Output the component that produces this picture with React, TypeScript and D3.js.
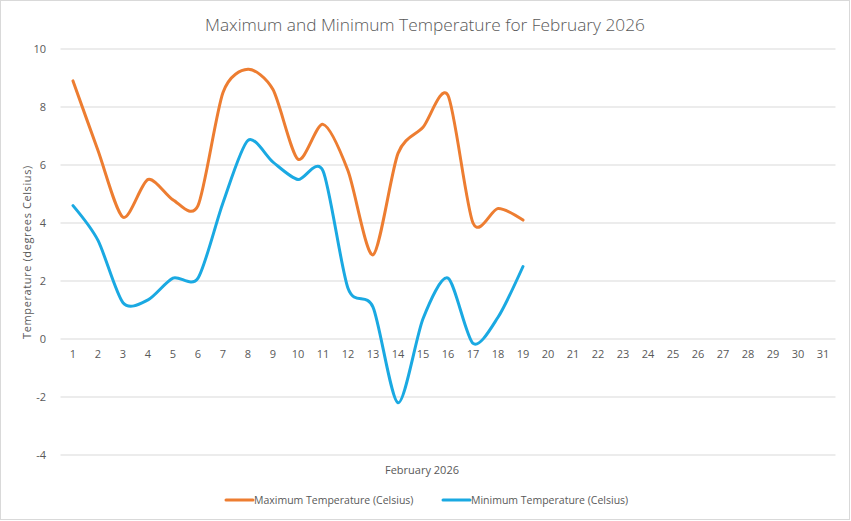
import * as d3 from "d3"

// daily readings for February 2026 (days 20-31 not recorded yet)
const days = d3.range(1, 32).map(String)
const maxTemps = [8.9, 6.5, 4.2, 5.5, 4.8, 4.6, 8.5, 9.3, 8.6, 6.2, 7.4, 5.8, 2.9, 6.4, 7.3, 8.4, 4.0, 4.5, 4.1]
const minTemps = [4.6, 3.4, 1.25, 1.35, 2.1, 2.1, 4.7, 6.85, 6.1, 5.5, 5.8, 1.75, 1.1, -2.2, 0.7, 2.1, -0.15, 0.75, 2.5]
const yTicks = [-4, -2, 0, 2, 4, 6, 8, 10]

const seriesList = [
  { name: "Maximum Temperature (Celsius)", values: maxTemps, color: "#ED7D31" },
  { name: "Minimum Temperature (Celsius)", values: minTemps, color: "#1AA9E2" }
]

const W = 851
const H = 521
const FONT = "'Open Sans', 'Noto Sans', sans-serif"
const TEXT = "#595959"

export default function App() {

  const x = d3.scaleBand()
    .domain(days)
    .range([60.5, 835.5])

  const y = d3.scaleLinear()
    .domain([-4, 10])
    .range([455, 49])

  const line = d3.line<number>()
    .x((_, i) => x(days[i])! + x.bandwidth() / 2)
    .y(d => y(d))
    .curve(d3.curveCardinal.tension(0.2))

  const legendX = [226, 443]

  return (
    <>
      <style>{`body{margin:0}`}</style>
      <svg width={W} height={H} style={{ display: "block", background: "#fff" }} fontFamily={FONT}>
        <rect x={0.5} y={0.5} width={W - 2} height={H - 2} fill="none" stroke="#d9d9d9" />

        <text x={425} y={31} textAnchor="middle" fontSize={17.3} fill={TEXT} fontWeight={300}>
          Maximum and Minimum Temperature for February 2026
        </text>

        {yTicks.map(t => (
          <g key={t}>
            <line x1={x.range()[0]} x2={x.range()[1]} y1={y(t)} y2={y(t)} stroke="#d9d9d9" />
            <text x={46} y={y(t) + 4} textAnchor="end" fontSize={11} fill={TEXT}>{t}</text>
          </g>
        ))}

        {days.map(d => (
          <text key={d} x={x(d)! + x.bandwidth() / 2} y={358} textAnchor="middle" fontSize={11} fill={TEXT}>{d}</text>
        ))}

        <text transform={`translate(31,${(y(10) + y(-4)) / 2}) rotate(-90)`} textAnchor="middle" fontSize={11} letterSpacing={0.6} fill={TEXT}>
          Temperature  (degrees Celsius)
        </text>

        <text x={422} y={474} textAnchor="middle" fontSize={11} fill={TEXT}>February 2026</text>

        {seriesList.map(s => (
          <path key={s.name} d={line(s.values)!} fill="none" stroke={s.color} strokeWidth={3} strokeLinecap="round" strokeLinejoin="round" />
        ))}

        {seriesList.map((s, i) => (
          <g key={s.name} transform={`translate(${legendX[i]},500)`}>
            <line x1={0} x2={27} y1={0} y2={0} stroke={s.color} strokeWidth={3} strokeLinecap="round" />
            <text x={28} y={4} fontSize={10.5} fill={TEXT}>{s.name}</text>
          </g>
        ))}
      </svg>
    </>
  )
}
